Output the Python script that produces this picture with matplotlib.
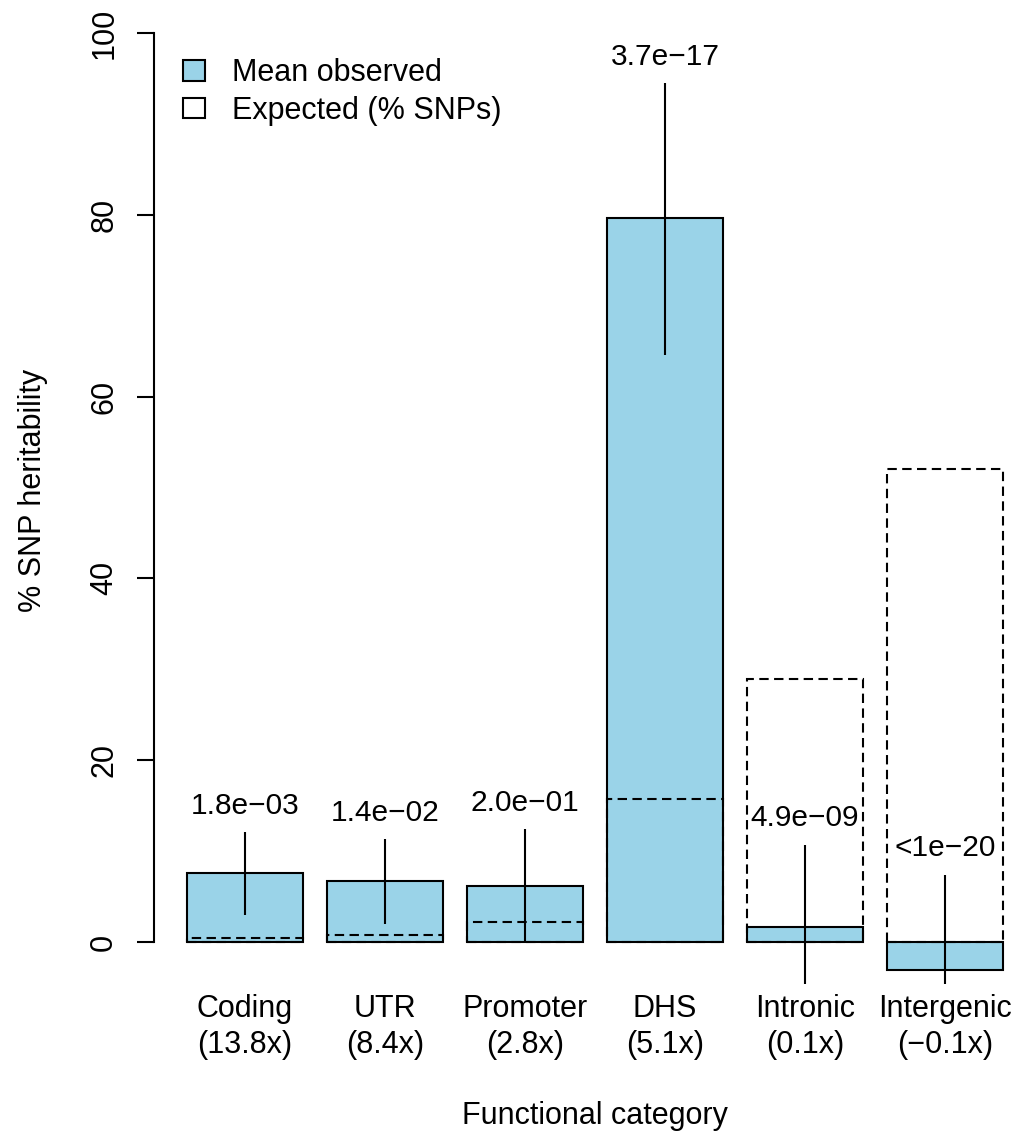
import matplotlib.pyplot as plt
from matplotlib.patches import Patch

plt.rcParams['font.family'] = ['Liberation Sans', 'DejaVu Sans']

# data
categories = ["Coding", "UTR", "Promoter", "DHS", "Intronic", "Intergenic"]
enrichment = ["(13.8x)", "(8.4x)", "(2.8x)", "(5.1x)", "(0.1x)", "(\u22120.1x)"]
observed = [7.6, 6.7, 6.2, 79.6, 1.65, -3.1]
err_low = [3.0, 2.0, 0.0, 64.6, -4.6, -4.6]
err_high = [12.1, 11.3, 12.4, 94.5, 10.7, 7.4]
expected = [0.45, 0.75, 2.2, 15.7, 28.9, 52.0]
pvalues = ["1.8e\u221203", "1.4e\u221202", "2.0e\u221201",
           "3.7e\u221217", "4.9e\u221209", "<1e\u221220"]
yticks = [0, 20, 40, 60, 80, 100]

fill = "#9ad3e8"
fs = 22
lw = 1.5
dash = (0, (4.5, 2.6))

fig = plt.figure(figsize=(10.23, 11.32), dpi=100)
ax = fig.add_axes([0.1505, 0.1309, 0.8622, 0.8721])

# barplot style positions: width 1, space 0.2
x = [0.7 + 1.2 * i for i in range(len(categories))]

ax.bar(x, observed, width=1, color=fill, edgecolor="black", linewidth=lw, zorder=2)
ax.vlines(x, err_low, err_high, color="black", linewidth=lw, zorder=3)
ax.bar(x, expected, width=1, fill=False, edgecolor="black", linewidth=lw,
       linestyle=dash, zorder=4)

for xi, hi, p in zip(x, err_high, pvalues):
    ax.text(xi, hi + 2.9, p, ha="center", va="center", fontsize=21.5)

ax.set_xlim(-0.08, 7.48)
ax.set_ylim(-4.6, 104)

for s in ["top", "right", "bottom"]:
    ax.spines[s].set_visible(False)
ax.spines["left"].set_bounds(0, 100)
ax.spines["left"].set_linewidth(lw)

ax.set_yticks(yticks)
ax.set_yticklabels([str(t) for t in yticks], rotation=90, va="center")
ax.tick_params(axis="y", length=12, width=lw, pad=13, labelsize=fs)

ax.set_xticks(x)
ax.set_xticklabels([c + "\n" + e for c, e in zip(categories, enrichment)],
                   linespacing=1.3)
ax.tick_params(axis="x", length=0, pad=7, labelsize=fs)

ax.set_xlabel("Functional category", fontsize=fs)
ax.xaxis.set_label_coords(0.5, -0.119)
ax.set_ylabel("% SNP heritability", fontsize=fs)
ax.yaxis.set_label_coords(-0.120, 0.5)

handles = [Patch(facecolor=fill, edgecolor="black", linewidth=lw),
           Patch(facecolor="white", edgecolor="black", linewidth=lw)]
ax.legend(handles, ["Mean observed", "Expected (% SNPs)"], loc="upper left",
          bbox_to_anchor=(183 / 1023, 1 - 58 / 1132), bbox_transform=fig.transFigure,
          frameon=False, fontsize=fs, borderpad=0, borderaxespad=0,
          handlelength=0.72, handleheight=0.66, handletextpad=0.9, labelspacing=0.25)

plt.savefig("out.png", dpi=100)
